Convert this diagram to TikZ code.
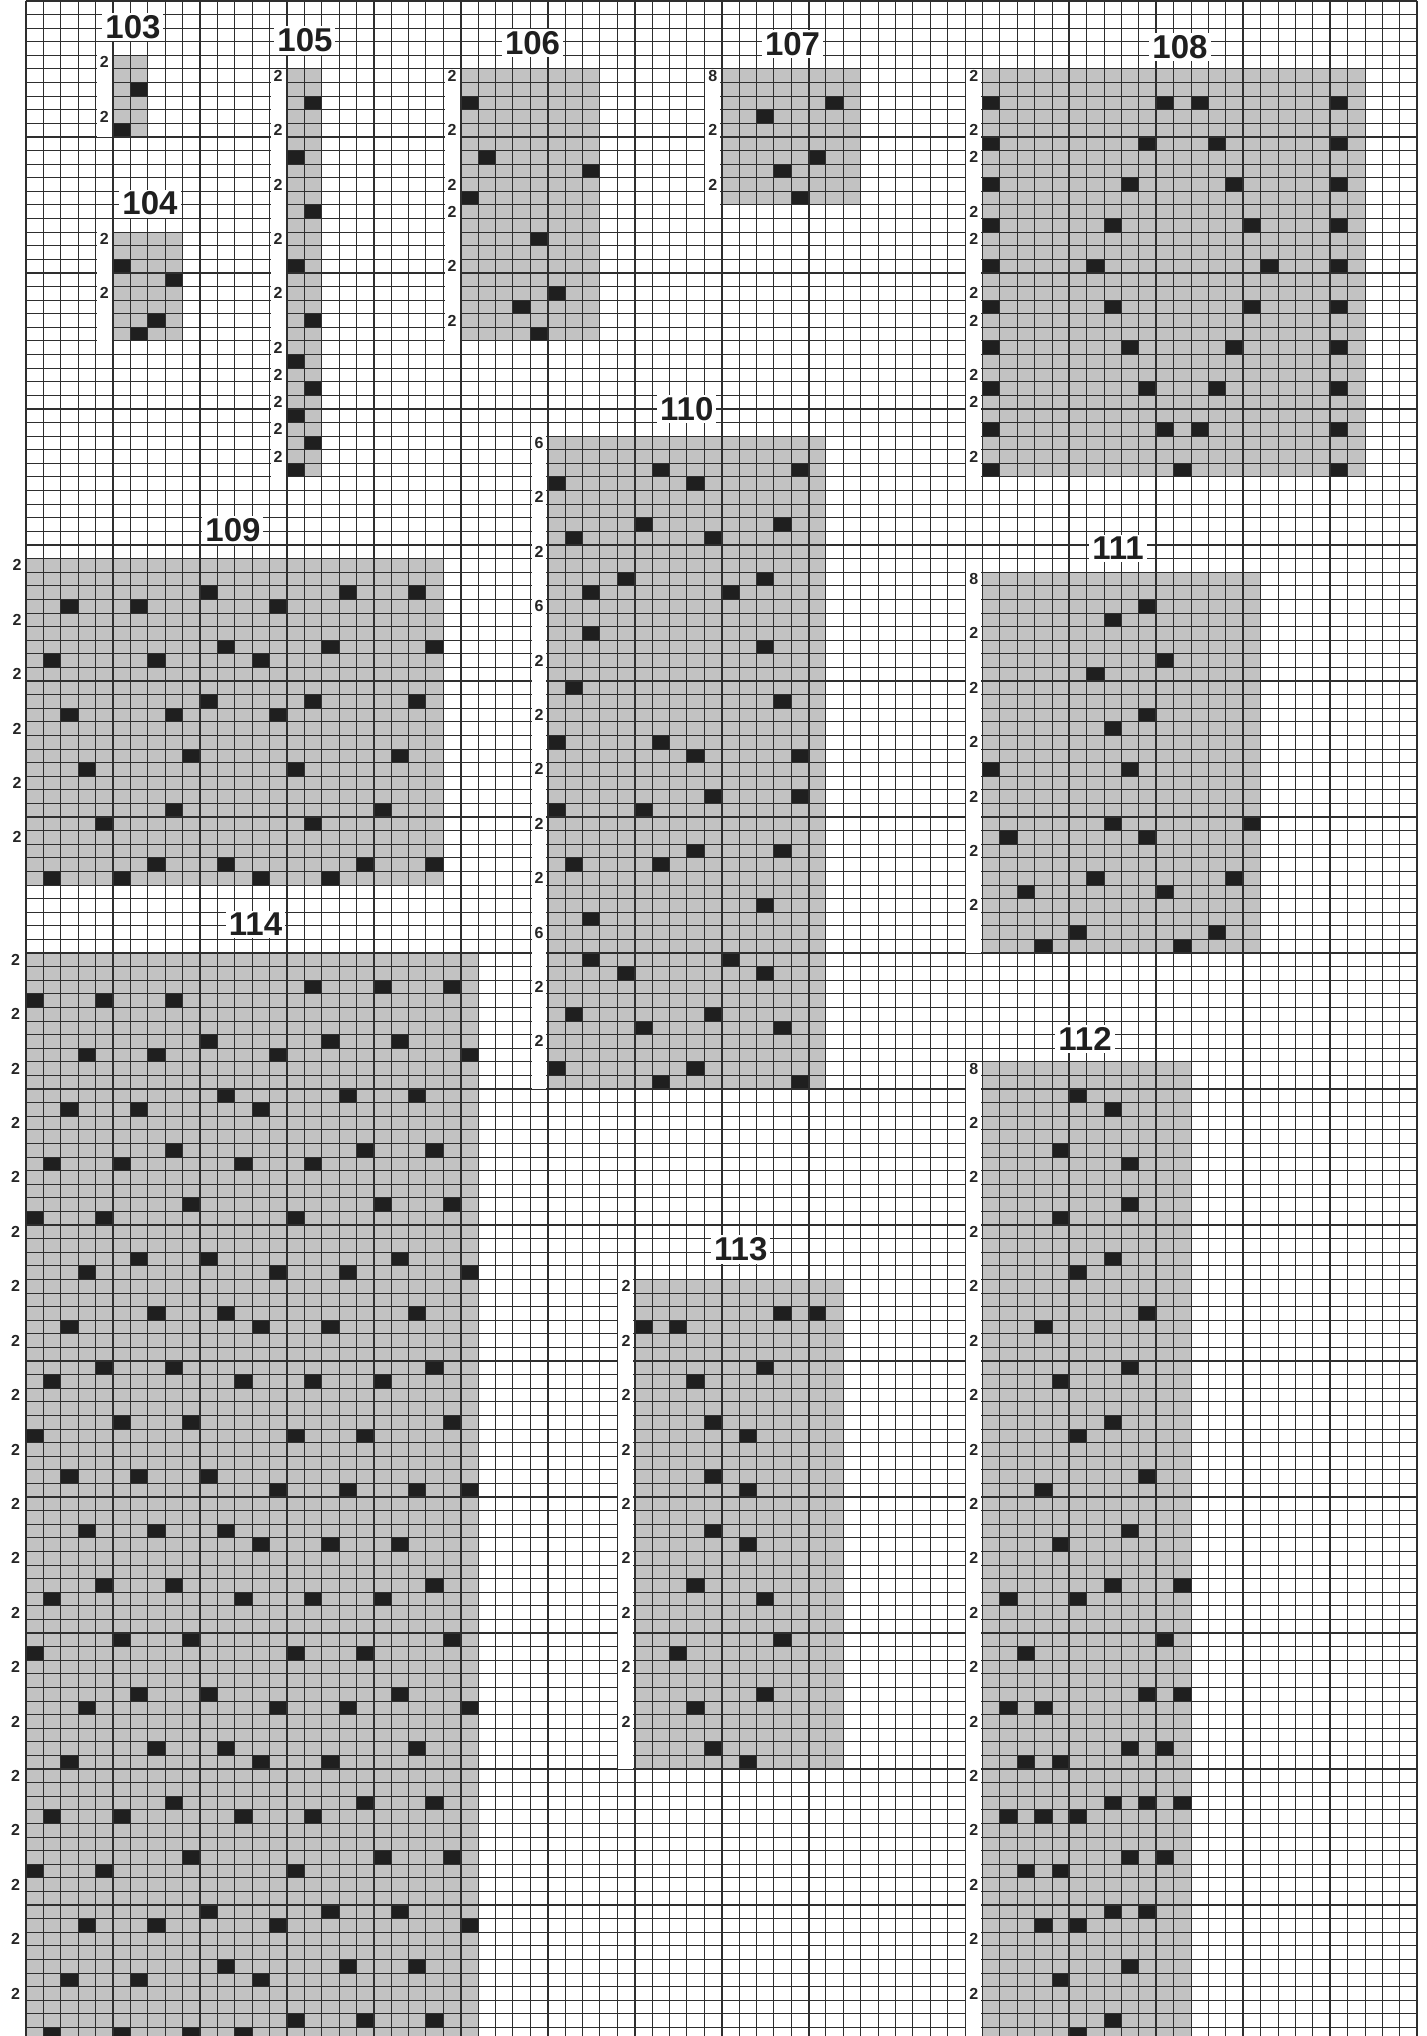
\documentclass[tikz,border=0pt]{standalone}
\usepackage{fontspec}
\setsansfont{Liberation Sans}
\definecolor{shadegray}{gray}{0.76}
\definecolor{cellblack}{gray}{0.12}
\definecolor{gridline}{gray}{0.18}
\tikzset{
  shadebox/.style={fill=shadegray},
  blackcell/.style={fill=cellblack},
  minorline/.style={draw=gridline, line width=0.5pt},
  majorline/.style={draw=gridline, line width=0.95pt},
  labelstrip/.style={fill=white},
  rowlabel/.style={font=\sffamily\bfseries\fontsize{8}{9}\selectfont, inner sep=0pt, text=black!85},
  charttitle/.style={font=\sffamily\bfseries\fontsize{16.5}{18}\selectfont, fill=white, inner xsep=1.5pt, inner ysep=1.2pt, text=black!88},
}
\begin{document}
\begin{tikzpicture}[x=8.695pt,y=-6.8pt]
\useasboundingbox (-1.4951,-0.0735) rectangle (80.506,149.632);
\clip (-1.4951,-0.0735) rectangle (80.506,149.632);
\fill[white] (-1.4951,-0.0735) rectangle (80.506,149.632);
% ---------- shaded chart areas ----------
\fill[shadebox] (5,4) rectangle (7,10);     % 103
\fill[shadebox] (5,17) rectangle (9,25);    % 104
\fill[shadebox] (15,5) rectangle (17,35);   % 105
\fill[shadebox] (25,5) rectangle (33,25);   % 106
\fill[shadebox] (40,5) rectangle (48,15);   % 107
\fill[shadebox] (55,5) rectangle (77,35);   % 108
\fill[shadebox] (0,41) rectangle (24,65);   % 109
\fill[shadebox] (30,32) rectangle (46,80);  % 110
\fill[shadebox] (55,42) rectangle (71,70);  % 111
\fill[shadebox] (55,78) rectangle (67,150); % 112
\fill[shadebox] (35,94) rectangle (47,130); % 113
\fill[shadebox] (0,70) rectangle (26,150);  % 114
% ---------- black cells ----------
% 103, 104, 105, 106, 107
\foreach \c/\r in {6/6,5/9, 5/19,8/20,7/23,6/24,
  16/7,15/11,16/15,15/19,16/23,15/26,16/28,15/30,16/32,15/34,
  25/7,26/11,32/12,25/14,29/17,30/21,28/22,29/24,
  46/7,42/8,45/11,43/12,44/14}
  \fill[blackcell] (\c,\r) rectangle ++(1,1);
% 108
\foreach \r/\cs in {7/{55,65,67,75},10/{55,64,68,75},13/{55,63,69,75},16/{55,62,70,75},
  19/{55,61,71,75},22/{55,62,70,75},25/{55,63,69,75},28/{55,64,68,75},31/{55,65,67,75},34/{55,66,75}}
  {\foreach \c in \cs {\fill[blackcell] (\c,\r) rectangle ++(1,1);}}
% 109
\foreach \r/\cs in {43/{10,18,22},44/{2,6,14},47/{11,17,23},48/{1,7,13},51/{10,16,22},52/{2,8,14},
  55/{9,21},56/{3,15},59/{8,20},60/{4,16},63/{7,11,19,23},64/{1,5,13,17}}
  {\foreach \c in \cs {\fill[blackcell] (\c,\r) rectangle ++(1,1);}}
% 110
\foreach \r/\cs in {34/{36,44},35/{30,38},38/{35,43},39/{31,39},42/{34,42},43/{32,40},46/{32},47/{42},
  50/{31},51/{43},54/{30,36},55/{38,44},58/{39,44},59/{30,35},62/{38,43},63/{31,36},66/{42},67/{32},
  70/{32,40},71/{34,42},74/{31,39},75/{35,43},78/{30,38},79/{36,44}}
  {\foreach \c in \cs {\fill[blackcell] (\c,\r) rectangle ++(1,1);}}
% 111
\foreach \r/\cs in {44/{64},45/{62},48/{65},49/{61},52/{64},53/{62},56/{55,63},60/{62,70},61/{56,64},
  64/{61,69},65/{57,65},68/{60,68},69/{58,66}}
  {\foreach \c in \cs {\fill[blackcell] (\c,\r) rectangle ++(1,1);}}
% 112
\foreach \r/\cs in {80/{60},81/{62},84/{59},85/{63},88/{63},89/{59},92/{62},93/{60},96/{64},97/{58},
  100/{63},101/{59},104/{62},105/{60},108/{64},109/{58},112/{63},113/{59},116/{62,66},117/{56,60},
  120/{65},121/{57},124/{64,66},125/{56,58},128/{63,65},129/{57,59},132/{62,64,66},133/{56,58,60},
  136/{63,65},137/{57,59},140/{62,64},141/{58,60},144/{63},145/{59},148/{62},149/{60}}
  {\foreach \c in \cs {\fill[blackcell] (\c,\r) rectangle ++(1,1);}}
% 113
\foreach \r/\cs in {96/{43,45},97/{35,37},100/{42},101/{38},104/{39},105/{41},108/{39},109/{41},
  112/{39},113/{41},116/{38},117/{42},120/{43},121/{37},124/{42},125/{38},128/{39},129/{41}}
  {\foreach \c in \cs {\fill[blackcell] (\c,\r) rectangle ++(1,1);}}
% 114
\foreach \r/\cs in {72/{16,20,24},73/{0,4,8},76/{10,17,21},77/{3,7,14,25},80/{11,18,22},81/{2,6,13},
  84/{8,19,23},85/{1,5,12,16},88/{9,20,24},89/{0,4,15},92/{6,10,21},93/{3,14,18,25},
  96/{7,11,22},97/{2,13,17},100/{4,8,23},101/{1,12,16,20},104/{5,9,24},105/{0,15,19},
  108/{2,6,10},109/{14,18,22,25},112/{3,7,11},113/{13,17,21},116/{4,8,23},117/{1,12,16,20},
  120/{5,9,24},121/{0,15,19},124/{6,10,21},125/{3,14,18,25},128/{7,11,22},129/{2,13,17},
  132/{8,19,23},133/{1,5,12,16},136/{9,20,24},137/{0,4,15},140/{10,17,21},141/{3,7,14,25},
  144/{11,18,22},145/{2,6,13},148/{15,19,23},149/{1,5,9,12}}
  {\foreach \c in \cs {\fill[blackcell] (\c,\r) rectangle ++(1,1);}}
% ---------- grid ----------
\foreach \c in {0,...,80} \draw[minorline] (\c,0) -- (\c,150);
\foreach \r in {0,...,150} \draw[minorline] (0,\r) -- (80,\r);
\foreach \c in {0,5,...,80} \draw[majorline] (\c,0) -- (\c,150);
\foreach \r in {0,10,...,150} \draw[majorline] (0,\r) -- (80,\r);
% ---------- white label strips ----------
\foreach \c/\ra/\rb in {4/4/10, 4/17/25, 14/5/35, 24/5/25, 39/5/15, 54/5/35, 29/32/80, 54/42/70, 54/78/150, 34/94/130}
  \fill[labelstrip] (\c+0.07,\ra) rectangle (\c+0.93,\rb);
% ---------- row count labels ----------
\foreach \r in {4,8,17,21} \node[rowlabel] (la\r) at (4.5,\r+0.5) {2};
\foreach \r in {5,9,13,17,21,25,27,29,31,33} \node[rowlabel] (lb\r) at (14.5,\r+0.5) {2};
\foreach \r in {5,9,13,15,19,23} \node[rowlabel] (lc\r) at (24.5,\r+0.5) {2};
\foreach \r/\t in {5/8,9/2,13/2} \node[rowlabel] (ld\r) at (39.5,\r+0.5) {\t};
\foreach \r in {5,9,11,15,17,21,23,27,29,33} \node[rowlabel] (le\r) at (54.5,\r+0.5) {2};
\foreach \r in {41,45,49,53,57,61} \node[rowlabel] (lf\r) at (-0.52,\r+0.5) {2};
\foreach \r/\t in {32/6,36/2,40/2,44/6,48/2,52/2,56/2,60/2,64/2,68/6,72/2,76/2} \node[rowlabel] (lg\r) at (29.5,\r+0.5) {\t};
\foreach \r/\t in {42/8,46/2,50/2,54/2,58/2,62/2,66/2} \node[rowlabel] (lh\r) at (54.5,\r+0.5) {\t};
\node[rowlabel] (li78) at (54.5,78.5) {8};
\foreach \r in {82,86,...,146} \node[rowlabel] (li\r) at (54.5,\r+0.5) {2};
\foreach \r in {94,98,...,126} \node[rowlabel] (lj\r) at (34.5,\r+0.5) {2};
\foreach \r in {70,74,...,146} \node[rowlabel] (lk\r) at (-0.6,\r+0.5) {2};
% ---------- chart titles ----------
\node[charttitle] (t103) at (6.15,1.89) {103};
\node[charttitle] (t104) at (7.13,14.9) {104};
\node[charttitle] (t105) at (16.04,2.9) {105};
\node[charttitle] (t106) at (29.13,3.11) {106};
\node[charttitle] (t107) at (44.08,3.16) {107};
\node[charttitle] (t108) at (66.36,3.36) {108};
\node[charttitle] (t109) at (11.9,38.9) {109};
\node[charttitle] (t110) at (38.0,30.0) {110};
\node[charttitle] (t111) at (62.8,40.25) {111};
\node[charttitle] (t112) at (60.9,76.3) {112};
\node[charttitle] (t113) at (41.1,91.8) {113};
\node[charttitle] (t114) at (13.2,67.9) {114};
\end{tikzpicture}
\end{document}
